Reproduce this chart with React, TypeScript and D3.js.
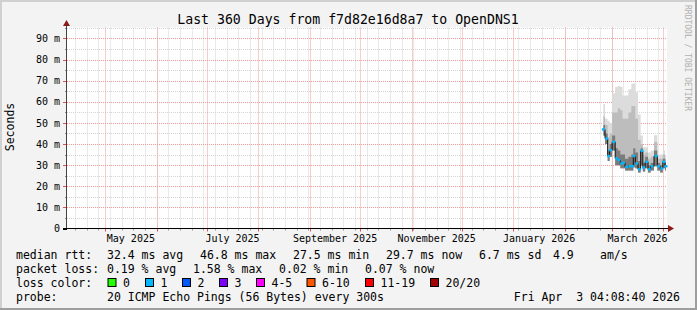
import React from 'react';
import * as d3 from 'd3';

const W = 697;
const H = 310;

const END_TIME = '2026-04-03T04:08:40Z';
const RANGE_DAYS = 360;

const title = 'Last 360 Days from f7d82e16d8a7 to OpenDNS1';
const yAxisTitle = 'Seconds';
const watermark = 'RRDTOOL / TOBI OETIKER';

const yTickValues = [0, 10, 20, 30, 40, 50, 60, 70, 80, 90];
const yTickLabels = ['0', '10 m', '20 m', '30 m', '40 m', '50 m', '60 m', '70 m', '80 m', '90 m'];
const yMinorValues = [5, 15, 25, 35, 45, 55, 65, 75, 85, 95];

const xTickMonths = ['2025-05-01', '2025-07-01', '2025-09-01', '2025-11-01', '2026-01-01', '2026-03-01'];
const xTickLabels = ['May 2025', 'July 2025', 'September 2025', 'November 2025', 'January 2026', 'March 2026'];

// sample times (UTC)
const sampleTimes = [
  '2026-02-24T00:00', '2026-02-26T00:00', '2026-02-27T04:00', '2026-02-28T08:00', '2026-03-02T04:00',
  '2026-03-04T00:00', '2026-03-05T08:00', '2026-03-07T00:00', '2026-03-08T00:00', '2026-03-10T00:00',
  '2026-03-12T00:00', '2026-03-13T14:00', '2026-03-14T08:00', '2026-03-16T00:00', '2026-03-17T14:00',
  '2026-03-19T04:00', '2026-03-20T04:00', '2026-03-22T00:00', '2026-03-23T14:00', '2026-03-25T04:00',
  '2026-03-27T14:00', '2026-03-29T04:00', '2026-03-31T00:00', '2026-04-01T08:00', '2026-04-02T14:00',
];
// values in ms
const medianRtt = [46.9, 42.6, 34.3, 37.1, 41.0, 33.2, 32.4, 30.8, 31.1, 29.2, 29.5, 29.5, 34.3, 30.8, 28.0, 36.8, 28.9, 31.6, 28.0, 29.5, 34.3, 29.5, 28.4, 31.6, 29.5];
const smokeMin = [44, 40, 32, 34, 37, 30, 30, 28.5, 28.5, 27.5, 27.5, 27.5, 29, 28.5, 26.5, 30, 27, 28.5, 26.5, 27.5, 29.5, 27.5, 26.5, 28.5, 27.5];
const smokeQ3 = [49, 45, 37, 40, 44, 38, 37, 35, 35, 33, 34, 35, 38, 36, 32, 38, 31, 34, 30, 31, 37, 31, 30, 33, 31];
const smokeP90 = [53, 49, 43, 45, 55, 55, 57, 56, 52, 52, 55, 58, 58, 52, 42, 40, 35, 36, 33, 34, 41, 33, 33, 35, 33];
const smokeMax = [59, 52, 51, 50, 64, 67, 67.5, 67, 63, 63, 66, 68.5, 68.7, 64.5, 54, 44, 38.5, 38.5, 36, 37, 44.2, 35, 35, 37, 34.7];
const lossLevel = [1, 1, 1, 1, 1, 1, 1, 1, 1, 1, 1, 1, 1, 1, 1, 1, 1, 1, 1, 1, 1, 1, 1, 1, 1];

const lossLabels = ['0', '1', '2', '3', '4-5', '6-10', '11-19', '20/20'];
const lossColors = ['#26ff00', '#00b8ff', '#0059ff', '#7e00ff', '#ff00ff', '#ff5500', '#ff0000', '#a10000'];

const medianRow = ['median rtt:', '32.4 ms avg', '46.8 ms max', '27.5 ms min', '29.7 ms now', '6.7 ms sd', '4.9', 'am/s'];
const lossRow = ['packet loss:', '0.19 % avg', '1.58 % max', '0.02 % min', '0.07 % now'];
const probeRow = ['probe:', '20 ICMP Echo Pings (56 Bytes) every 300s'];
const stampText = 'Fri Apr  3 04:08:40 2026';

const FONT = '"DejaVu Sans Mono", monospace';

export default function App() {
  const end = new Date(END_TIME);
  const start = new Date(end.getTime() - RANGE_DAYS * 86400000);
  const left = 67;
  const right = 667;
  const top = 27.5;
  const bottom = 228.5;
  const x = d3.scaleUtc().domain([start, end]).range([left, right]);
  const y = d3.scaleLinear().domain([0, 95.2]).range([bottom, top]);
  const px = (v: number) => Math.round(v) + 0.5;

  const data = sampleTimes.map((t, i) => ({
    t: new Date(t + ':00Z'),
    med: medianRtt[i],
    min: smokeMin[i],
    q3: smokeQ3[i],
    p90: smokeP90[i],
    max: smokeMax[i],
    loss: lossLevel[i],
  }));

  const area = (hiKey: 'q3' | 'p90' | 'max') =>
    d3
      .area<any>()
      .curve(d3.curveStep)
      .x((d) => x(d.t))
      .y0((d) => y(d.min))
      .y1((d) => y(d[hiKey]))(data) || '';

  const medLine =
    d3
      .line<any>()
      .curve(d3.curveStep)
      .x((d) => x(d.t))
      .y((d) => y(d.med))(data) || '';

  const weeks = d3.utcSunday.range(start, end);
  const months = d3.utcMonth.range(start, end);

  const minorGrid = '#d4d4d4';
  const majorGrid = '#f29a9a';

  const legendX1 = [16, 107, 200, 293, 386, 479, 553, 600];
  const legendX2 = [16, 107, 193, 279, 365];
  const boxX = [108, 145.5, 182.5, 219.5, 256.5, 307, 365.5, 430.5];
  const rowY = [258.5, 272.5, 286.5, 300.5];

  return (
    <svg
      width={W}
      height={H}
      style={{ position: 'absolute', left: 0, top: 0, display: 'block' }}
      fontFamily={FONT}
    >
      <rect x={0} y={0} width={W} height={H} fill="#f3f3f3" />
      {/* 3D border */}
      <rect x={0} y={0} width={W} height={2} fill="#d0d0d0" />
      <rect x={0} y={0} width={2} height={H} fill="#d0d0d0" />
      <rect x={0} y={H - 2} width={W} height={2} fill="#9e9e9e" />
      <rect x={W - 2} y={0} width={2} height={H} fill="#9e9e9e" />

      <text x={348} y={23.5} fontSize={13.2} textAnchor="middle" fill="#000">
        {title}
      </text>
      <text
        transform="translate(688,5) rotate(90)"
        fontSize={8}
        fill="#b0b0b0"
        dy="0.35em"
      >
        {watermark}
      </text>
      <text transform="translate(14,127) rotate(-90)" fontSize={11.5} textAnchor="middle" fill="#000">
        {yAxisTitle}
      </text>

      {/* plot area */}
      <rect x={left} y={top} width={right - left} height={bottom - top} fill="#fff" />

      {/* minor grid */}
      {yMinorValues.map((v) => (
        <line key={'hm' + v} x1={left} x2={right} y1={px(y(v))} y2={px(y(v))} stroke={minorGrid} strokeDasharray="1,1" />
      ))}
      {weeks.map((d, i) => (
        <line key={'vm' + i} x1={px(x(d))} x2={px(x(d))} y1={top} y2={bottom} stroke={minorGrid} strokeDasharray="1,1" />
      ))}
      {/* major grid */}
      {yTickValues.slice(1).map((v) => (
        <line key={'hM' + v} x1={left} x2={right} y1={px(y(v))} y2={px(y(v))} stroke={majorGrid} strokeDasharray="1,1" />
      ))}
      {months.map((d, i) => (
        <line key={'vM' + i} x1={px(x(d))} x2={px(x(d))} y1={top} y2={bottom} stroke={majorGrid} strokeDasharray="1,1" />
      ))}

      {/* smoke */}
      <path d={area('max')} fill="#dcdcdc" />
      <path d={area('p90')} fill="#bdbdbd" />
      <path d={area('q3')} fill="#7c7c7c" />
      <path d={medLine} fill="none" stroke="#111" strokeWidth={1} />
      {data.map((d, i) => (
        <rect
          key={'m' + i}
          x={x(d.t) - 1.5}
          y={y(d.med) - 1.2}
          width={3}
          height={2.4}
          fill={lossColors[d.loss]}
        />
      ))}

      {/* ticks */}
      {yMinorValues.map((v) => (
        <line key={'tm' + v} x1={left - 2} x2={left} y1={px(y(v))} y2={px(y(v))} stroke="#888" />
      ))}
      {yTickValues.map((v) => (
        <line key={'tM' + v} x1={left - 4} x2={left} y1={px(y(v))} y2={px(y(v))} stroke={v === 0 ? '#000' : '#e05050'} />
      ))}
      {weeks.map((d, i) => (
        <line key={'xt' + i} x1={px(x(d))} x2={px(x(d))} y1={bottom} y2={bottom + 2} stroke="#999" />
      ))}
      {months.map((d, i) => (
        <line key={'xT' + i} x1={px(x(d))} x2={px(x(d))} y1={bottom} y2={bottom + 3} stroke="#e05050" />
      ))}

      {/* axes */}
      <line x1={left - 0.5} x2={left - 0.5} y1={bottom} y2={24} stroke="#444" />
      <path d={`M${left - 4},${26} L${left - 0.5},${20} L${left + 3},${26} Z`} fill="#8b1a1a" />
      <line x1={left - 4} x2={670} y1={bottom} y2={bottom} stroke="#000" />
      <path d={`M${668},${bottom - 3.5} L${674},${bottom} L${668},${bottom + 3.5} Z`} fill="#8b1a1a" />

      {/* tick labels */}
      {yTickValues.map((v, i) => (
        <text key={'yl' + v} x={60} y={y(v) + 3.6} fontSize={10} textAnchor="end" fill="#000">
          {yTickLabels[i]}
        </text>
      ))}
      {xTickMonths.map((m, i) => {
        const d0 = new Date(m + 'T00:00:00Z');
        const d1 = d3.utcMonth.offset(d0, 1);
        const cx = (x(d0) + x(d1)) / 2;
        return (
          <text key={'xl' + i} x={cx} y={242} fontSize={10} textAnchor="middle" fill="#000">
            {xTickLabels[i]}
          </text>
        );
      })}

      {/* legend */}
      <g fontSize={11.5} fill="#000" style={{ whiteSpace: 'pre' }}>
        {medianRow.map((s, i) => (
          <text key={'r1' + i} x={legendX1[i]} y={rowY[0]}>
            {s}
          </text>
        ))}
        {lossRow.map((s, i) => (
          <text key={'r2' + i} x={legendX2[i]} y={rowY[1]}>
            {s}
          </text>
        ))}
        <text x={16} y={rowY[2]}>loss color:</text>
        {lossLabels.map((s, i) => (
          <g key={'lc' + i}>
            <rect x={boxX[i]} y={278.5} width={8} height={8} fill={lossColors[i]} stroke="#000" strokeWidth={1} />
            <text x={boxX[i] + 15} y={rowY[2]}>
              {s}
            </text>
          </g>
        ))}
        <text x={16} y={rowY[3]}>{probeRow[0]}</text>
        <text x={107} y={rowY[3]}>{probeRow[1]}</text>
        <text x={680} y={rowY[3]} textAnchor="end" xmlSpace="preserve">
          {stampText}
        </text>
      </g>
    </svg>
  );
}
